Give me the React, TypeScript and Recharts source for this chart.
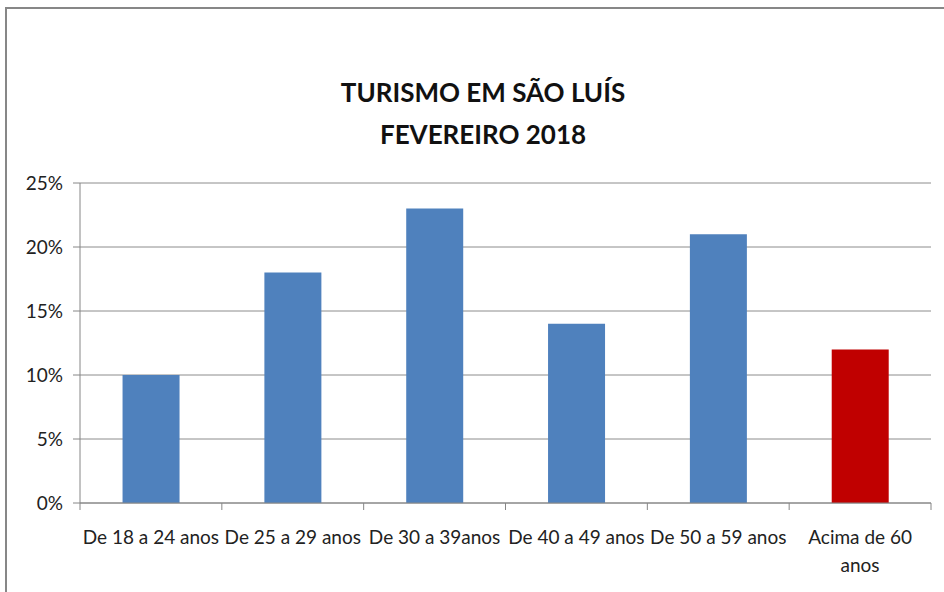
import { BarChart, Bar, XAxis, YAxis, CartesianGrid, Cell } from 'recharts'

const categories = ['De 18 a 24 anos', 'De 25 a 29 anos', 'De 30 a 39anos', 'De 40 a 49 anos', 'De 50 a 59 anos', 'Acima de 60 anos']
const shares = [10, 18, 23, 14, 21, 12]
const barColors = ['#4f81bd', '#4f81bd', '#4f81bd', '#4f81bd', '#4f81bd', '#c00000']
const yTicks = [0, 5, 10, 15, 20, 25]
const titleLines = ['TURISMO EM SÃO LUÍS', 'FEVEREIRO 2018']

const FONT = 'Lato, "Open Sans", sans-serif'
const W = 944
const H = 592
const PLOT_LEFT = 80
const PLOT_RIGHT = 931
const BAND = (PLOT_RIGHT - PLOT_LEFT) / categories.length
const MAX_CHARS = 15

const data = categories.map((c, i) => ({ name: c, value: shares[i], color: barColors[i] }))

// word wrap by character count, good enough for these labels
function wrap(label: string): string[] {
  const lines: string[] = []
  let cur = ''
  label.split(' ').forEach((w) => {
    const next = cur ? cur + ' ' + w : w
    if (next.length > MAX_CHARS && cur) {
      lines.push(cur)
      cur = w
    } else {
      cur = next
    }
  })
  if (cur) lines.push(cur)
  return lines
}

function CategoryTick(props: any) {
  const { x, y, payload, index } = props
  const lines = wrap(String(payload.value))
  return (
    <g>
      <line x1={x - BAND / 2} y1={y - 8} x2={x - BAND / 2} y2={y - 1} stroke="#868686" />
      {index === categories.length - 1 && (
        <line x1={x + BAND / 2} y1={y - 8} x2={x + BAND / 2} y2={y - 1} stroke="#868686" />
      )}
      <text x={x} y={y + 33} textAnchor="middle" fill="#222" style={{ fontSize: 19, fontFamily: FONT }}>
        {lines.map((l, i) => (
          <tspan key={i} x={x} dy={i === 0 ? 0 : 28}>
            {l}
          </tspan>
        ))}
      </text>
    </g>
  )
}

export default function App() {
  return (
    <div style={{ position: 'absolute', left: 0, top: 0, width: W, height: H, background: '#fff', fontFamily: FONT }}>
      <div
        style={{
          position: 'absolute',
          left: 5,
          top: 7,
          width: W,
          height: H,
          borderTop: '2px solid #878787',
          borderLeft: '2px solid #878787'
        }}
      />
      <div
        style={{
          position: 'absolute',
          left: 0,
          top: 71,
          width: 966,
          textAlign: 'center',
          fontWeight: 700,
          fontSize: 26,
          lineHeight: '42px',
          color: '#111'
        }}
      >
        {titleLines.map((t) => (
          <div key={t}>{t}</div>
        ))}
      </div>
      <div style={{ position: 'absolute', left: 0, top: 0 }}>
        <BarChart
          width={W}
          height={H}
          data={data}
          margin={{ top: 183, right: W - PLOT_RIGHT, bottom: 0, left: 0 }}
          barCategoryGap="30%"
        >
          <CartesianGrid vertical={false} stroke="#8c8c8c" />
          <XAxis
            dataKey="name"
            height={89}
            interval={0}
            tickLine={false}
            axisLine={{ stroke: '#868686' }}
            tick={<CategoryTick />}
          />
          <YAxis
            width={PLOT_LEFT}
            domain={[0, 25]}
            ticks={yTicks}
            tickFormatter={(v) => `${v}%`}
            tickSize={7}
            tickMargin={10}
            tickLine={{ stroke: '#868686' }}
            axisLine={{ stroke: '#868686' }}
            tick={{ fill: '#222', fontSize: 19, fontFamily: FONT }}
          />
          <Bar dataKey="value" isAnimationActive={false}>
            {data.map((d) => (
              <Cell key={d.name} fill={d.color} />
            ))}
          </Bar>
        </BarChart>
      </div>
    </div>
  )
}
